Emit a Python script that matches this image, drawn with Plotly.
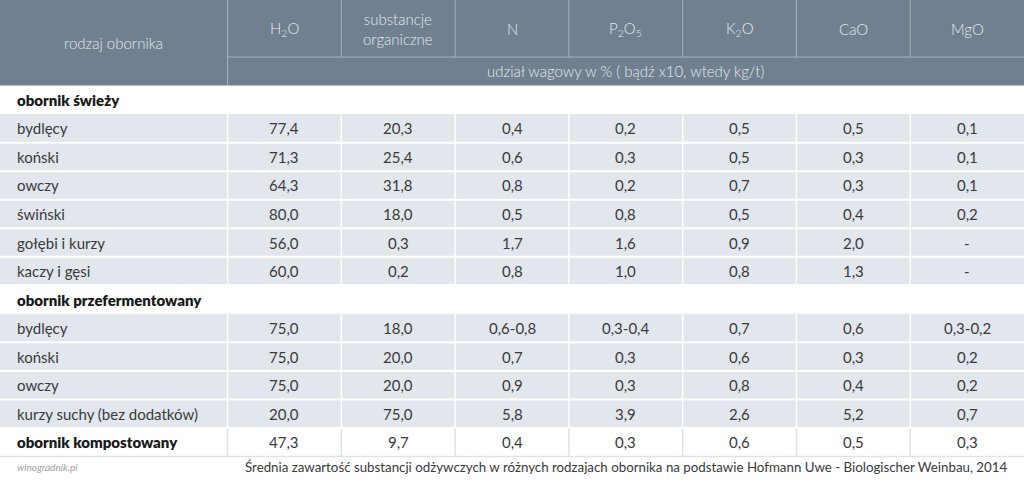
import plotly.graph_objects as go

# ---------------- data ----------------
first_header = "rodzaj obornika"
column_headers = ["H<sub>2</sub>O", "substancje<br>organiczne", "N",
                  "P<sub>2</sub>O<sub>5</sub>", "K<sub>2</sub>O", "CaO", "MgO"]
unit_label = "udział wagowy w % ( bądź x10, wtedy kg/t)"

section_fresh = "obornik świeży"
section_fermented = "obornik przefermentowany"
section_compost = "obornik kompostowany"

fresh_types = ["bydlęcy", "koński", "owczy", "świński", "gołębi i kurzy", "kaczy i gęsi"]
fermented_types = ["bydlęcy", "koński", "owczy", "kurzy suchy (bez dodatków)"]

# values per column: 6 fresh rows, 4 fermented rows, 1 compost row
h2o     = ["77,4", "71,3", "64,3", "80,0", "56,0", "60,0", "75,0", "75,0", "75,0", "20,0", "47,3"]
organic = ["20,3", "25,4", "31,8", "18,0", "0,3", "0,2", "18,0", "20,0", "20,0", "75,0", "9,7"]
n_vals  = ["0,4", "0,6", "0,8", "0,5", "1,7", "0,8", "0,6-0,8", "0,7", "0,9", "5,8", "0,4"]
p2o5    = ["0,2", "0,3", "0,2", "0,8", "1,6", "1,0", "0,3-0,4", "0,3", "0,3", "3,9", "0,3"]
k2o     = ["0,5", "0,5", "0,7", "0,5", "0,9", "0,8", "0,7", "0,6", "0,8", "2,6", "0,6"]
cao     = ["0,5", "0,3", "0,3", "0,4", "2,0", "1,3", "0,6", "0,3", "0,4", "5,2", "0,5"]
mgo     = ["0,1", "0,1", "0,1", "0,2", "-", "-", "0,3-0,2", "0,2", "0,2", "0,7", "0,3"]

source_note = ("Średnia zawartość substancji odżywczych w różnych rodzajach obornika "
               "na podstawie Hofmann Uwe - Biologischer Weinbau, 2014")
site_note = "winogradnik.pl"

# ---------------- styles ----------------
HEAD_BG = "#708090"
HEAD_TXT = "#e4e9ee"
HEAD_LINE = "#a7b3be"
ROW_BG = "#e1e7ed"
ROW_SEP = "#ffffff"
LAST_LINE = "#dfe4ea"
TXT = "#3a3a3a"
BOLD_TXT = "#1a1a1a"
FONT = "Lato"

value_cols = [h2o, organic, n_vals, p2o5, k2o, cao, mgo]
col_edges = [0, 2, 3, 4, 5, 6, 7, 8, 9]   # first column is double width

# body rows: (label, kind, value index)
body = [(section_fresh, "section", None)]
body += [(t, "data", i) for i, t in enumerate(fresh_types)]
body += [(section_fermented, "section", None)]
body += [(t, "data", len(fresh_types) + i) for i, t in enumerate(fermented_types)]
body += [(section_compost, "compost", len(fresh_types) + len(fermented_types))]

HEAD1 = 2   # header row 1 height (units)
HEAD2 = 1   # header row 2 height
body_top = HEAD1 + HEAD2
total_units = body_top + len(body) + 1

shapes = []
ann = []

# header background
shapes.append(dict(type="rect", x0=0, x1=col_edges[-1], y0=0, y1=body_top,
                    fillcolor=HEAD_BG, line_width=0, layer="below"))
# header lines
shapes.append(dict(type="line", x0=col_edges[1], x1=col_edges[1], y0=0, y1=body_top,
                   line=dict(color=HEAD_LINE, width=1)))
for e in col_edges[2:-1]:
    shapes.append(dict(type="line", x0=e, x1=e, y0=0, y1=HEAD1,
                       line=dict(color=HEAD_LINE, width=1)))
shapes.append(dict(type="line", x0=col_edges[1], x1=col_edges[-1], y0=HEAD1, y1=HEAD1,
                   line=dict(color=HEAD_LINE, width=1)))

ann.append(dict(x=col_edges[1] / 2, y=body_top / 2, text=first_header, showarrow=False,
                font=dict(family=FONT, size=15, color=HEAD_TXT, weight=300)))
for j, h in enumerate(column_headers):
    ann.append(dict(x=(col_edges[j + 1] + col_edges[j + 2]) / 2, y=HEAD1 / 2, text=h,
                    showarrow=False,
                    font=dict(family=FONT, size=15, color=HEAD_TXT, weight=300)))
ann.append(dict(x=(col_edges[1] + col_edges[-1]) / 2, y=HEAD1 + HEAD2 / 2, text=unit_label,
                showarrow=False, font=dict(family=FONT, size=15, color=HEAD_TXT, weight=300)))

# body
for r, (label, kind, vi) in enumerate(body):
    y0 = body_top + r
    y1 = y0 + 1
    yc = y0 + 0.5
    if kind == "data":
        shapes.append(dict(type="rect", x0=0, x1=col_edges[-1], y0=y0, y1=y1,
                           fillcolor=ROW_BG, line_width=0, layer="below"))
        shapes.append(dict(type="line", x0=0, x1=col_edges[-1], y0=y1, y1=y1,
                           line=dict(color=ROW_SEP, width=2)))
        for e in col_edges[1:-1]:
            shapes.append(dict(type="line", x0=e, x1=e, y0=y0, y1=y1,
                               line=dict(color=ROW_SEP, width=1.5)))
        lab_font = dict(family=FONT, size=15, color=TXT)
    elif kind == "compost":
        for e in col_edges[1:-1]:
            shapes.append(dict(type="line", x0=e, x1=e, y0=y0, y1=y1,
                               line=dict(color=LAST_LINE, width=1.5)))
        shapes.append(dict(type="line", x0=0, x1=col_edges[-1], y0=y1, y1=y1,
                           line=dict(color=LAST_LINE, width=1.5)))
        lab_font = dict(family=FONT, size=15, color=BOLD_TXT, weight=800)
    else:
        lab_font = dict(family=FONT, size=15, color=BOLD_TXT, weight=800)
    ann.append(dict(x=0.13, y=yc, text=label, showarrow=False, xanchor="left",
                    font=lab_font))
    if vi is not None:
        for j, col in enumerate(value_cols):
            ann.append(dict(x=(col_edges[j + 1] + col_edges[j + 2]) / 2, y=yc,
                            text=col[vi], showarrow=False,
                            font=dict(family=FONT, size=15, color=TXT)))

# footer
foot_y = body_top + len(body) + 0.36
ann.append(dict(x=0.13, y=foot_y, text=site_note, showarrow=False, xanchor="left",
                font=dict(family=FONT, size=10, color="#a0a0a0", style="italic")))
ann.append(dict(x=8.88, y=foot_y, text=source_note, showarrow=False, xanchor="right",
                font=dict(family=FONT, size=13.3, color="#3a3a3a")))

fig = go.Figure()
fig.update_layout(
    width=1024, height=485,
    margin=dict(l=0, r=0, t=0, b=0),
    paper_bgcolor="white", plot_bgcolor="white",
    xaxis=dict(range=[0, col_edges[-1]], visible=False, fixedrange=True),
    yaxis=dict(range=[total_units, 0], visible=False, fixedrange=True),
    shapes=shapes, annotations=ann, showlegend=False,
)
fig.write_html("out.html", config={"displayModeBar": False},
               post_script="document.body.style.margin='0';document.body.style.overflow='hidden';")
